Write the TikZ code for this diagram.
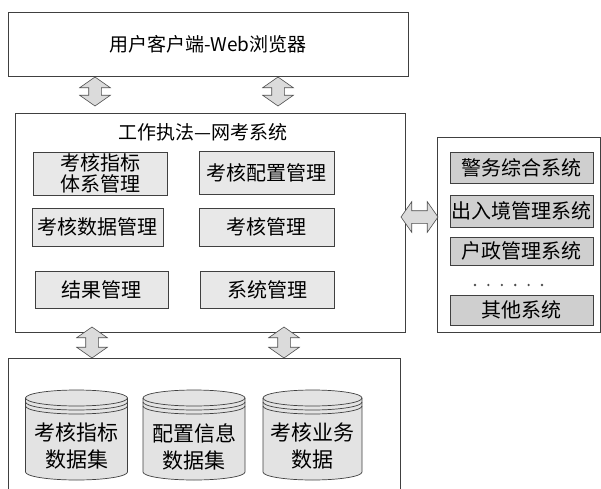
\documentclass[tikz,border=0pt]{standalone}
\usepackage{fontspec}
\usepackage{tikz}
\usetikzlibrary{shapes.arrows}
\newfontfamily\cjk{Noto Sans CJK SC}
\tikzstyle{kuang} = [draw=black!75, line width=0.7pt, rectangle, inner sep=0pt]
\tikzstyle{mokuai} = [kuang, fill=gray!18, align=center, font=\cjk\fontsize{20}{21}\selectfont]
\tikzstyle{waibu} = [kuang, fill=gray!38, font=\cjk\fontsize{20}{21}\selectfont]
\tikzstyle{tong} = [draw=black!75, line width=0.7pt, fill=gray!22]
\tikzstyle{shuangjian} = [double arrow, draw=black!70, fill=gray!28, line width=0.6pt, inner xsep=0pt, inner ysep=6pt, double arrow head extend=9pt, double arrow tip angle=110]

\begin{document}
\begin{tikzpicture}[x=1pt, y=1pt]
		\useasboundingbox (0,0) rectangle (601,488);
		% client layer
		\node[kuang, minimum width=400pt, minimum height=64pt, font=\cjk\fontsize{19}{21}\selectfont] (client) at (208,444) {用户客户端-Web浏览器};

		% system layer
		\node[kuang, minimum width=390pt, minimum height=219pt] (wsys) at (210,265.5) {};
		\node[font=\cjk\fontsize{19}{21}\selectfont] (wtitle) at (203,356) {工作执法—网考系统};
		\node[mokuai, minimum width=134pt, minimum height=43pt] (zhibiao) at (100,314.5) {考核指标\\体系管理};
		\node[mokuai, minimum width=135pt, minimum height=43pt] (peizhi) at (266.5,315.5) {考核配置管理};
		\node[mokuai, minimum width=131pt, minimum height=38pt] (shuju) at (97.5,261) {考核数据管理};
		\node[mokuai, minimum width=135pt, minimum height=38pt] (kaohe) at (266.5,261) {考核管理};
		\node[mokuai, minimum width=133pt, minimum height=37pt] (jieguo) at (101.5,198.5) {结果管理};
		\node[mokuai, minimum width=134pt, minimum height=37pt] (xitong) at (267,198.5) {系统管理};

		% external systems
		\node[kuang, minimum width=163pt, minimum height=195pt] (waixi) at (518.5,253.5) {};
		\node[waibu, minimum width=143pt, minimum height=31pt] (jingwu) at (521.5,320.5) {警务综合系统};
		\node[waibu, minimum width=143pt, minimum height=32pt] (churu) at (521.5,277) {出入境管理系统};
		\node[waibu, minimum width=143pt, minimum height=28pt] (huzheng) at (521.5,237) {户政管理系统};
		\node[waibu, minimum width=143pt, minimum height=30pt] (qita) at (521.5,178) {其他系统};
		\foreach \i in {0,...,5}
			\fill[black!70] (475+\i*13.4,203) circle (1.3pt);

		% data layer
		\node[minimum width=392pt, minimum height=134pt, anchor=north west, inner sep=0pt] (shujuku) at (8,130) {};
		\draw[kuang] (shujuku.south west) |- (shujuku.north east) -- (shujuku.south east);
		\foreach \cx/\r/\nm/\txt in {76.5/51/ku1/{考核指标\\数据集}, 194/51/ku2/{配置信息\\数据集}, 312.5/49.5/ku3/{考核业务\\数据}}{
			\filldraw[tong] (\cx-\r,90) -- (\cx-\r,16) arc[start angle=180, end angle=360, x radius=\r, y radius=8] -- (\cx+\r,90) arc[start angle=0, end angle=180, x radius=\r, y radius=8] -- cycle;
			\draw[tong, fill=none] (\cx-\r,90) arc[start angle=180, end angle=360, x radius=\r, y radius=8];
			\draw[tong, fill=none] (\cx-\r,86) arc[start angle=180, end angle=360, x radius=\r, y radius=8];
			\draw[tong, fill=none] (\cx-\r,82) arc[start angle=180, end angle=360, x radius=\r, y radius=8];
			\node[align=center, font=\cjk\fontsize{21}{27}\selectfont] (\nm) at (\cx,41.5) {\txt};
		}

		% block arrows
		\node[shuangjian, rotate=90, minimum height=29pt] (jt1) at (95,396.5) {};
		\node[shuangjian, rotate=90, minimum height=29pt] (jt2) at (278,396.5) {};
		\node[shuangjian, rotate=90, minimum height=31pt] (jt3) at (92,145.5) {};
		\node[shuangjian, rotate=90, minimum height=31pt] (jt4) at (284,145.5) {};
		\node[shuangjian, minimum height=37pt] (jt5) at (419.5,271) {};
	\end{tikzpicture}
\end{document}
